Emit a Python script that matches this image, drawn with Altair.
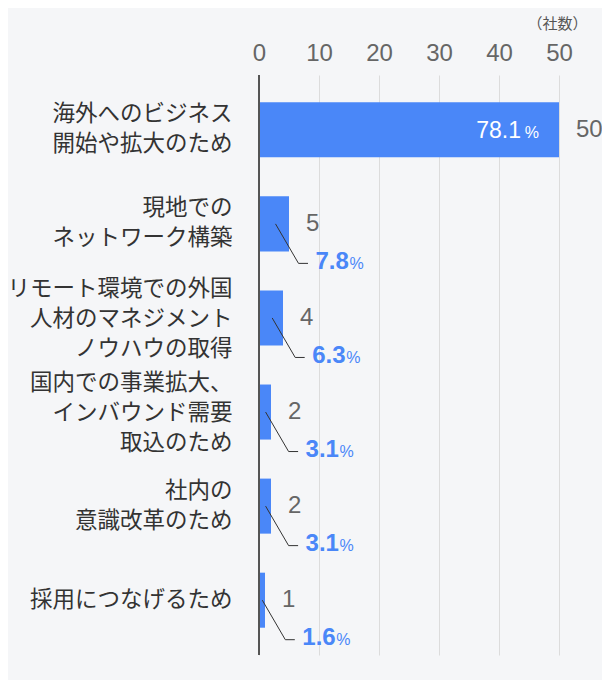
import altair as alt
import pandas as pd

categories = [
    "海外へのビジネス|開始や拡大のため",
    "現地での|ネットワーク構築",
    "リモート環境での外国|人材のマネジメント|ノウハウの取得",
    "国内での事業拡大、|インバウンド需要|取込のため",
    "社内の|意識改革のため",
    "採用につなげるため",
]
counts = [50, 5, 4, 2, 2, 1]
percents = [78.1, 7.8, 6.3, 3.1, 3.1, 1.6]
x_ticks = [0, 10, 20, 30, 40, 50]
unit_label = "（社数）"

df = pd.DataFrame({
    "cat": categories,
    "count": counts,
    "pct": percents,
    "idx": list(range(len(categories))),
})

BLUE = "#4a87f8"
JP = "Noto Sans CJK JP"
NUM = "Liberation Sans"

x_enc = alt.X(
    "count:Q",
    scale=alt.Scale(domain=[0, 50], nice=False),
    axis=alt.Axis(
        orient="top", values=x_ticks, grid=True, gridColor="#dcdcdc",
        ticks=False, domain=False, labelFontSize=24, labelFont=NUM,
        labelColor="#666", labelPadding=10, labelFlush=False,
        title=unit_label, titleFont=JP, titleFontSize=15,
        titleFontWeight="normal", titleColor="#555", titleAnchor="end",
        titleAlign="right", titleBaseline="middle", titleX=328, titleY=-52,
    ),
)

label_offset = {
    "condition": [
        {"test": "length(split(datum.label, '|')) == 3", "value": -29},
        {"test": "length(split(datum.label, '|')) == 2", "value": -15.5},
    ],
    "value": 0,
}

y_enc = alt.Y(
    "cat:N", sort=categories,
    scale=alt.Scale(paddingInner=0.415, paddingOuter=0.29),
    axis=alt.Axis(
        title=None, ticks=False, domain=False, labelExpr="split(datum.label, '|')",
        labelFont=JP, labelFontSize=22.5, labelColor="#333", labelLineHeight=30,
        labelPadding=27, labelAlign="right", labelBaseline="middle", labelLimit=400,
        labelOffset=label_offset,
    ),
)

base = alt.Chart(df).encode(y=y_enc)

bars = base.mark_bar(color=BLUE).encode(x=x_enc)

zero_rule = alt.Chart(df).mark_rule(color="#555", strokeWidth=1.2).encode(x=alt.datum(0))

count_text = base.mark_text(
    align="left", baseline="middle", dx=17, fontSize=24, font=NUM, color="#666"
).encode(x="count:Q", text="count:Q")

first = base.transform_filter("datum.idx == 0")
in_pct = first.mark_text(
    align="right", baseline="alphabetic", dx=-38, dy=8, fontSize=23, font=NUM,
    color="white"
).encode(x="count:Q", text=alt.Text("pct:Q", format=".1f"))
in_sign = first.mark_text(
    align="right", baseline="alphabetic", dx=-20, dy=8, fontSize=16, font=NUM,
    color="white"
).encode(x="count:Q", text=alt.value("%"))

rest = base.transform_filter("datum.idx > 0").transform_calculate(start="datum.count * 0.55")

diag = rest.mark_rule(color="#333", strokeWidth=1, x2Offset=23, y2Offset=39.5).encode(
    x="start:Q", x2="start:Q", y2=alt.Y2("cat")
)
horiz = rest.mark_rule(color="#333", strokeWidth=1, xOffset=23, x2Offset=32.5, yOffset=39.5).encode(
    x="start:Q", x2="start:Q"
)
out_pct = rest.mark_text(
    align="left", baseline="alphabetic", dx=40, dy=45, fontSize=24, font=NUM,
    fontWeight="bold", color=BLUE
).encode(x="start:Q", text=alt.Text("pct:Q", format=".1f"))
out_sign = rest.mark_text(
    align="left", baseline="alphabetic", dx=74, dy=45, fontSize=16, font=NUM,
    color=BLUE
).encode(x="start:Q", text=alt.value("%"))

chart = alt.layer(
    bars, zero_rule, count_text, in_pct, in_sign, diag, horiz, out_pct, out_sign
).properties(
    width=300, height=580,
    padding={"left": 251, "top": 67, "right": 43, "bottom": 25},
    autosize="none", background="#f5f6f8",
).configure_view(stroke=None)

chart.save("out.html", embed_options={"renderer": "svg", "actions": False})
